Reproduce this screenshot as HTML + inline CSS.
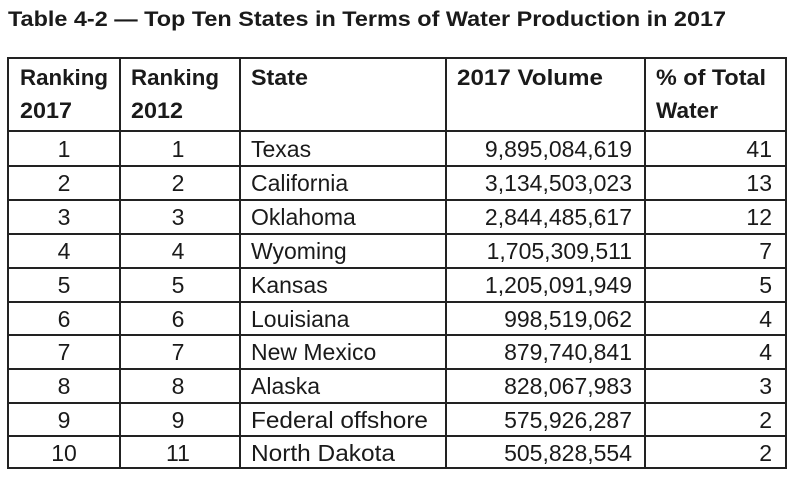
<!DOCTYPE html><html><head><style>body{margin:0;background:#fff}svg{display:block}text{font-family:"Liberation Sans",sans-serif;fill:#1a1a1a}</style></head><body>
<svg width="800" height="496" viewBox="0 0 800 496">
<text x="8" y="26" font-size="21" font-weight="bold" textLength="718" lengthAdjust="spacingAndGlyphs">Table 4-2 — Top Ten States in Terms of Water Production in 2017</text>
<g stroke="#222" stroke-width="2" fill="none">
<rect x="8" y="58" width="778" height="410"/>
<line x1="120" y1="58" x2="120" y2="468"/><line x1="240" y1="58" x2="240" y2="468"/><line x1="446" y1="58" x2="446" y2="468"/><line x1="645" y1="58" x2="645" y2="468"/>
<line x1="8" y1="131" x2="786" y2="131"/><line x1="8" y1="166" x2="786" y2="166"/><line x1="8" y1="200" x2="786" y2="200"/><line x1="8" y1="234" x2="786" y2="234"/><line x1="8" y1="268" x2="786" y2="268"/><line x1="8" y1="302" x2="786" y2="302"/><line x1="8" y1="335" x2="786" y2="335"/><line x1="8" y1="369" x2="786" y2="369"/><line x1="8" y1="403" x2="786" y2="403"/><line x1="8" y1="436" x2="786" y2="436"/>
</g>
<g font-size="22" font-weight="bold">
<text x="20" y="85" textLength="88" lengthAdjust="spacingAndGlyphs">Ranking</text><text x="20" y="118" textLength="52" lengthAdjust="spacingAndGlyphs">2017</text>
<text x="131" y="85" textLength="88" lengthAdjust="spacingAndGlyphs">Ranking</text><text x="131" y="118" textLength="52" lengthAdjust="spacingAndGlyphs">2012</text>
<text x="251" y="85" textLength="57" lengthAdjust="spacingAndGlyphs">State</text>
<text x="457" y="85" textLength="146" lengthAdjust="spacingAndGlyphs">2017 Volume</text>
<text x="656" y="85" textLength="110" lengthAdjust="spacingAndGlyphs">% of Total</text><text x="656" y="118" textLength="62" lengthAdjust="spacingAndGlyphs">Water</text>
</g>
<g font-size="23">
<g text-anchor="middle">
<text x="64" y="157">1</text><text x="64" y="191">2</text><text x="64" y="225">3</text><text x="64" y="259">4</text><text x="64" y="293">5</text><text x="64" y="327">6</text><text x="64" y="360">7</text><text x="64" y="394">8</text><text x="64" y="428">9</text><text x="64" y="461">10</text>
<text x="178" y="157">1</text><text x="178" y="191">2</text><text x="178" y="225">3</text><text x="178" y="259">4</text><text x="178" y="293">5</text><text x="178" y="327">6</text><text x="178" y="360">7</text><text x="178" y="394">8</text><text x="178" y="428">9</text><text x="178" y="461">11</text>
</g>
<g textLength="0">
<text x="251" y="157">Texas</text><text x="251" y="191">California</text><text x="251" y="225">Oklahoma</text><text x="251" y="259">Wyoming</text><text x="251" y="293">Kansas</text><text x="251" y="327">Louisiana</text><text x="251" y="360">New Mexico</text><text x="251" y="394">Alaska</text><text x="251" y="428" textLength="177" lengthAdjust="spacingAndGlyphs">Federal offshore</text><text x="251" y="461" textLength="144" lengthAdjust="spacingAndGlyphs">North Dakota</text>
</g>
<g text-anchor="end">
<text x="632" y="157">9,895,084,619</text><text x="632" y="191">3,134,503,023</text><text x="632" y="225">2,844,485,617</text><text x="632" y="259">1,705,309,511</text><text x="632" y="293">1,205,091,949</text><text x="632" y="327">998,519,062</text><text x="632" y="360">879,740,841</text><text x="632" y="394">828,067,983</text><text x="632" y="428">575,926,287</text><text x="632" y="461">505,828,554</text>
<text x="772" y="157">41</text><text x="772" y="191">13</text><text x="772" y="225">12</text><text x="772" y="259">7</text><text x="772" y="293">5</text><text x="772" y="327">4</text><text x="772" y="360">4</text><text x="772" y="394">3</text><text x="772" y="428">2</text><text x="772" y="461">2</text>
</g>
</g>
</svg></body></html>
